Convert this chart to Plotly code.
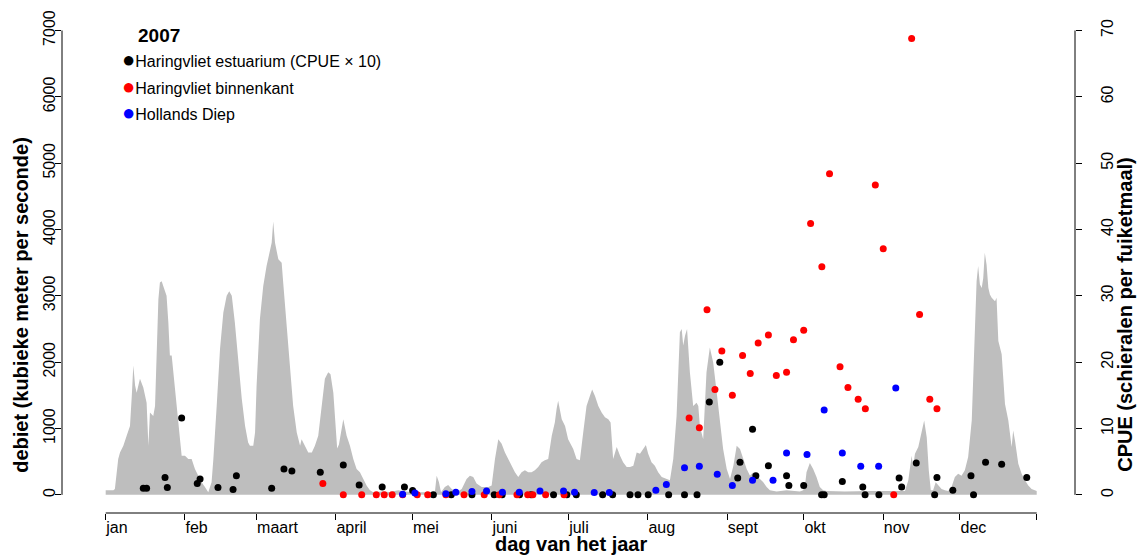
import plotly.graph_objects as go

# ---- daily river discharge (m3/s) by day of year, 2007 ----
dag = [1, 4, 4.6, 5.9, 6.6, 7.9, 9.2, 10.5, 11.2, 11.8, 12.5, 13.1, 14.4, 15.7, 17.0, 17.7, 18.3, 19.6,
       20.3, 20.9, 21.6, 22.2, 22.9, 23.5, 24.8, 25.5, 26.1, 26.8, 27.4, 28.8, 30.0, 30.7, 32.0, 33.3,
       34.6, 35.9, 37.2, 38.5, 39.8, 41.1, 42.4, 43.1, 44.4, 45.7, 47.0, 48.3, 49.3, 50.3, 51.5, 52.8,
       54.2, 55.5, 56.7, 57.4, 58.7, 59.4, 60.0, 61.3, 62.6, 63.9, 65.2, 65.9, 66.5, 67.2, 68.5, 69.8,
       70.4, 71.8, 73.0, 74.3, 75.7, 77.0, 77.6, 78.9, 80.2, 81.6, 82.8, 84.1, 85.4, 86.7, 88.0, 88.9,
       90.0, 91.0, 91.5, 92.2, 93.9, 95.2, 96.5, 97.8, 99.1, 100.4, 101.7, 103.0, 104.3, 105.6, 108.9,
       112.0, 115.4, 118.0, 121.9, 126.0, 129.7, 130.4, 131.3, 132.1, 133.6, 134.9, 136.3, 138.2, 140.2,
       142.1, 143.4, 144.7, 146.0, 148.0, 150.6, 151.9, 153.2, 154.5, 155.8, 157.1, 158.4, 159.7, 161.0,
       162.3, 163.6, 164.9, 166.2, 167.5, 168.8, 170.1, 171.4, 172.7, 174.0, 175.4, 176.6, 177.3, 177.9,
       179.3, 180.6, 181.8, 182.5, 183.8, 185.1, 186.4, 187.7, 189.0, 190.3, 191.2, 192.3, 193.6, 194.9,
       196.2, 197.5, 198.4, 199.4, 200.8, 202.1, 203.3, 204.7, 206.0, 207.3, 208.6, 209.9, 211.2, 212.2,
       213.1, 214.4, 215.7, 217.0, 218.4, 220.3, 221.6, 222.9, 224.2, 225.5, 226.2, 226.8, 227.5, 228.3,
       229.4, 230.7, 232.0, 232.7, 233.3, 234.6, 235.9, 237.2, 238.5, 239.9, 241.1, 242.4, 243.8, 245.1,
       246.4, 247.7, 249.0, 250.3, 251.6, 252.9, 254.2, 255.6, 256.8, 258.1, 259.4, 260.7, 263.3, 267.2,
       272.4, 273.7, 274.4, 275.0, 275.7, 276.3, 277.6, 278.9, 280.2, 281.5, 282.9, 290.0, 300.0, 313.5,
       314.8, 316.1, 316.7, 317.4, 318.7, 320.0, 321.0, 322.0, 322.8, 323.6, 324.5, 325.5, 326.5, 327.8,
       329.1, 330.4, 331.7, 333.0, 334.3, 335.6, 336.9, 338.2, 339.6, 340.8, 341.5, 342.1, 342.8, 343.5,
       344.1, 344.7, 345.4, 346.1, 346.7, 347.4, 348.7, 349.3, 350.0, 351.3, 352.6, 353.9, 355.2, 355.8,
       356.5, 357.8, 359.1, 360.4, 361.7, 363.0, 364.3, 365]
debiet = [70, 70, 90, 540, 640, 740, 890, 1040, 1490, 1950, 1650, 1540, 1750, 1620, 1390, 740, 1240, 1190,
          1340, 2100, 2950, 3200, 3220, 3150, 3000, 2600, 2100, 2100, 1850, 1340, 840, 590, 590, 540,
          540, 390, 290, 190, 120, 40, 190, 540, 1340, 2200, 2750, 3000, 3070, 3000, 2600, 2050,
          1450, 1040, 790, 740, 740, 940, 1650, 2650, 3150, 3450, 3650, 3800, 4120, 3800, 3550, 3500,
          3200, 2500, 1850, 1340, 940, 740, 840, 740, 640, 640, 740, 890, 1340, 1750, 1850, 1820,
          1540, 900, 700, 760, 1140, 890, 740, 540, 390, 340, 240, 140, 70, 40, 50,
          45, 70, 50, 40, 45, 40, 290, 190, 40, 120, 150, 90, 40, 90,
          240, 290, 270, 170, 120, 120, 140, 540, 840, 770, 640, 540, 440, 340,
          270, 340, 370, 340, 340, 370, 420, 490, 520, 540, 890, 1090, 1300, 1420,
          1140, 1040, 840, 790, 690, 540, 520, 940, 1340, 1490, 1590, 1490, 1340, 1240,
          1170, 1140, 1090, 540, 720, 590, 490, 420, 420, 440, 640, 620, 690, 750,
          620, 490, 440, 340, 270, 240, 220, 540, 1190, 2450, 2500, 2250, 2400, 2500,
          1850, 1340, 1390, 1340, 1040, 840, 1850, 2220, 2000, 1540, 1090, 690, 390, 240,
          440, 740, 690, 540, 390, 290, 340, 270, 240, 190, 120, 70, 50, 70,
          50, 70, 140, 340, 420, 480, 390, 270, 120, 70, 60, 50, 60, 60,
          220, 590, 420, 620, 720, 970, 1120, 870, 370, 70, 70, 190, 140, 90,
          70, 60, 120, 270, 320, 290, 370, 570, 1120, 2620, 3220, 3450, 3170, 3120,
          3270, 3650, 3470, 3120, 3020, 2970, 2920, 2970, 2320, 2120, 1370, 1120, 720, 970,
          820, 470, 320, 220, 140, 90, 70, 60]

# ---- CPUE (silver eels per fyke-net day); estuary values shown x10 ----
est_dag = [15.7, 17.0, 24.2, 25.1, 30.7, 36.8, 37.9, 44.9, 50.8, 52.1, 65.9, 70.7, 73.8, 84.9, 93.9,
           100.1, 109.1, 117.8, 121.0, 129.1, 136.1, 144.2, 152.9, 156.0, 162.8, 167.3, 176.1, 181.3,
           185.0, 195.3, 199.2, 206.0, 209.1, 213.1, 221.1, 227.3, 232.2, 237.0, 241.1, 248.1, 249.0,
           253.9, 255.2, 260.1, 267.2, 268.1, 273.9, 280.9, 281.9, 289.0, 297.0, 297.9, 303.3, 311.2,
           312.2, 317.9, 325.1, 326.0, 332.2, 339.3, 340.3, 345.0, 351.3, 361.1]
est_cpue10 = [1.0, 1.0, 2.6, 1.1, 11.6, 1.7, 2.4, 1.1, 0.8, 2.9, 1.0, 3.9, 3.6, 3.4, 4.5,
              1.5, 1.2, 1.2, 0.65, 0, 0, 0, 0, 0, 0, 0, 0, 0,
              0, 0, 0, 0, 0, 0, 0, 0, 0, 14.0, 20.0, 2.55, 4.9,
              9.9, 2.9, 4.4, 2.9, 1.4, 1.4, 0, 0, 2.0, 1.2, 0, 0, 2.55,
              1.2, 4.8, 0, 2.6, 0.7, 2.9, 0, 4.9, 4.6, 2.6]

bin_dag = [85.9, 93.9, 101.1, 106.8, 109.9, 113.0, 117.1, 122.8, 126.9, 134.0, 141.1, 149.0, 154.9,
           161.8, 166.0, 168.0, 173.0, 180.2, 229.1, 233.1, 236.1, 239.2, 241.9, 246.0, 250.0, 253.0,
           256.1, 260.1, 263.2, 267.2, 269.9, 273.9, 276.6, 281.0, 284.0, 288.1, 291.2, 295.2, 298.0,
           301.9, 305.0, 309.1, 316.1, 319.2, 323.2, 326.0]
bin_cpue = [1.7, 0, 0, 0, 0, 0, 0, 0, 0, 0, 0, 0, 0,
            0, 0, 0, 0, 0, 11.6, 10.1, 27.9, 15.9, 21.7, 15.0, 21.0, 18.3,
            22.9, 24.1, 18.0, 18.5, 23.4, 24.8, 40.9, 34.4, 48.4, 19.3, 16.2, 14.4, 13.0,
            46.7, 37.1, 0, 68.8, 27.2, 14.4, 13.0]

hd_dag = [117.1, 121.9, 134.0, 137.9, 144.2, 149.9, 156.1, 162.7, 170.8, 180.0, 184.3, 192.0, 197.9,
          216.1, 220.2, 227.3, 233.1, 240.1, 246.0, 253.9, 261.9, 267.2, 275.2, 281.9, 289.0, 296.2,
          303.2, 309.9]
hd_cpue = [0.1, 0.3, 0.15, 0.4, 0.5, 0.6, 0.4, 0.4, 0.6, 0.6, 0.4, 0.35, 0.35,
           0.7, 1.55, 4.1, 4.3, 3.1, 1.4, 2.2, 2.2, 6.3, 6.1, 12.8, 6.3, 4.3,
           4.3, 16.1]

# ---- axis ticks ----
maand_start = [1, 32, 60, 91, 121, 152, 182, 213, 244, 274, 305, 335, 365]
maand_naam = ["jan", "feb", "maart", "april", "mei", "juni", "juli", "aug", "sept", "okt", "nov", "dec", ""]
debiet_ticks = [0, 1000, 2000, 3000, 4000, 5000, 6000, 7000]
cpue_ticks = [0, 10, 20, 30, 40, 50, 60, 70]

FONT = "Liberation Sans, Arial, sans-serif"
W, H = 1138, 556
ML, MR, MT, MB = 62, 63, 10, 43
PW, PH = W - ML - MR, H - MT - MB


def px(x):
    return (x - ML) / PW


def py(y):
    return (H - MB - y) / PH


fig = go.Figure()

fig.add_trace(go.Scatter(
    x=dag, y=debiet, mode="lines", fill="tozeroy",
    line=dict(width=0, color="#bebebe"), fillcolor="#bebebe",
    hoverinfo="skip", showlegend=False))

for xs, ys, col in [(est_dag, est_cpue10, "#000000"),
                    (bin_dag, bin_cpue, "#ff0000"),
                    (hd_dag, hd_cpue, "#0000ff")]:
    fig.add_trace(go.Scatter(
        x=xs, y=ys, yaxis="y2", mode="markers",
        marker=dict(color=col, size=7, line=dict(width=0)),
        showlegend=False))

axis_font = dict(family=FONT, size=16, color="#000000")

fig.update_layout(
    width=W, height=H,
    margin=dict(l=ML, r=MR, t=MT, b=MB),
    paper_bgcolor="white", plot_bgcolor="white",
    font=axis_font,
    xaxis=dict(range=[-16.08, 379.97], tickmode="array", tickvals=maand_start, ticktext=maand_naam,
               ticks="outside", ticklen=6, tickcolor="#000000", tickwidth=1,
               ticklabelposition="outside right", tickfont=axis_font,
               showgrid=False, zeroline=False, showline=False),
    yaxis=dict(range=[-273.3, 7279], tickmode="array", tickvals=debiet_ticks,
               ticks="outside", ticklen=6, tickcolor="#000000", tickangle=-90, tickfont=axis_font,
               ticklabelstandoff=-6,
               showgrid=False, zeroline=False, showline=False),
    yaxis2=dict(range=[-2.733, 72.79], tickmode="array", tickvals=cpue_ticks, overlaying="y", side="right",
                ticks="outside", ticklen=6, tickcolor="#000000", tickangle=-90, tickfont=axis_font,
                ticklabelstandoff=12,
                showgrid=False, zeroline=False, showline=False),
)

line = dict(color="#000000", width=1)
fig.add_shape(type="line", xref="paper", yref="y", x0=0, x1=0, y0=0, y1=7000, line=line)
fig.add_shape(type="line", xref="paper", yref="y", x0=1, x1=1, y0=0, y1=7000, line=line)
fig.add_shape(type="line", xref="x", yref="paper", x0=1, x1=365, y0=0, y1=0, line=line)

title_font = dict(family=FONT, size=20, color="#000000")
fig.add_annotation(text="<b>debiet (kubieke meter per seconde)</b>", xref="paper", yref="paper",
                   x=px(21), y=py(304), xanchor="center", yanchor="middle", textangle=-90,
                   showarrow=False, font=title_font)
fig.add_annotation(text="<b>CPUE (schieralen per fuiketmaal)</b>", xref="paper", yref="paper",
                   x=px(1125), y=py(314), xanchor="center", yanchor="middle", textangle=-90,
                   showarrow=False, font=title_font)
fig.add_annotation(text="<b>dag van het jaar</b>", xref="paper", yref="paper",
                   x=px(571), y=py(544), xanchor="center", yanchor="middle",
                   showarrow=False, font=title_font)

fig.add_annotation(text="<b>2007</b>", xref="paper", yref="paper", x=px(136), y=py(34),
                   xanchor="left", yanchor="middle", showarrow=False,
                   font=dict(family=FONT, size=19, color="#000000"))
legend_items = [("Haringvliet estuarium (CPUE × 10)", "#000000", 58),
                ("Haringvliet binnenkant", "#ff0000", 85),
                ("Hollands Diep", "#0000ff", 111)]
for label, col, ypix in legend_items:
    fig.add_annotation(text=f"<span style='color:{col};font-size:22px'>●</span>{label}",
                       xref="paper", yref="paper", x=px(120), y=py(ypix),
                       xanchor="left", yanchor="middle", showarrow=False,
                       font=dict(family=FONT, size=16, color="#000000"))

fig.write_html("out.html")
